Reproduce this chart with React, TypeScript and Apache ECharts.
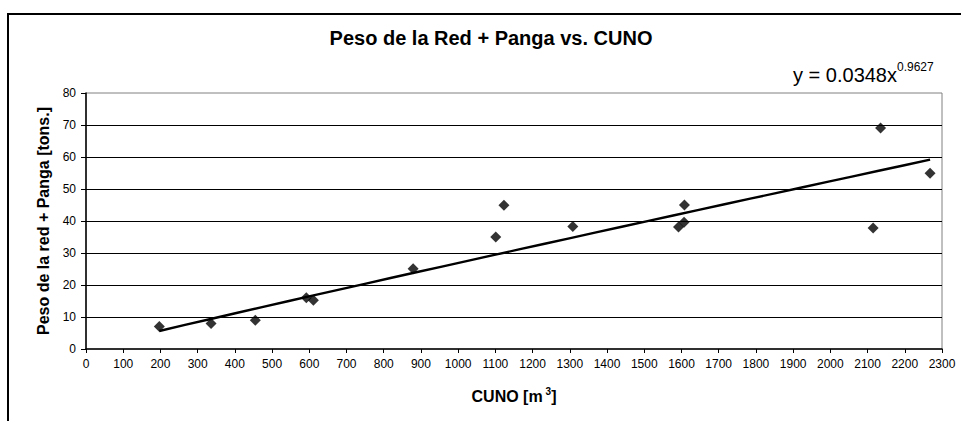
import React, { useEffect, useRef } from "react";
import * as echarts from "echarts";

const TITLE = "Peso de la Red + Panga vs. CUNO";
const X_NAME_MAIN = "CUNO [m";
const X_NAME_SUP = "3";
const Y_NAME = "Peso de la red + Panga [tons.]";
const EQ_MAIN = "y = 0.0348x";
const EQ_SUP = "0.9627";

// CUNO [m3]
const cuno = [197, 336, 455, 592, 611, 879, 1101, 1123, 1308, 1592, 1607, 1608, 2115, 2135, 2268];
// Peso [tons.]
const peso = [7.0, 8.0, 9.0, 16.0, 15.2, 25.1, 35.0, 44.9, 38.3, 38.1, 39.6, 45.0, 37.8, 69.1, 54.9];

// Power trendline coefficients (as displayed: y = a x^b)
const TREND_A = 0.0348;
const TREND_B = 0.9627;
const TREND_STEPS = 30;

const X_MIN = 0, X_MAX = 2300, X_INT = 100;
const Y_MIN = 0, Y_MAX = 80, Y_INT = 10;

const FONT = "'Liberation Sans', Arial, sans-serif";

export default function App() {
  const ref = useRef<HTMLDivElement>(null);
  useEffect(() => {
    if (!ref.current) return;
    const chart = echarts.init(ref.current, undefined, { renderer: "svg" });
    const scatterData = cuno.map((x, i) => [x, peso[i]]);
    const xs = cuno.slice().sort((a, b) => a - b);
    const x0 = xs[0], x1 = xs[xs.length - 1];
    const trend: number[][] = [];
    for (let i = 0; i <= TREND_STEPS; i++) {
      const x = x0 + ((x1 - x0) * i) / TREND_STEPS;
      trend.push([x, TREND_A * Math.pow(x, TREND_B)]);
    }
    chart.setOption({
      animation: false,
      backgroundColor: "#fff",
      textStyle: { fontFamily: FONT, color: "#000" },
      title: {
        text: TITLE,
        left: 491,
        textAlign: "center",
        top: 28,
        padding: 0,
        textStyle: { fontFamily: FONT, fontSize: 20, fontWeight: "bold", color: "#000" },
      },
      grid: {
        left: 86,
        right: 19,
        top: 93,
        bottom: 72,
        show: true,
        borderColor: "#808080",
        borderWidth: 1,
        backgroundColor: "transparent",
      },
      xAxis: {
        type: "value",
        min: X_MIN,
        max: X_MAX,
        interval: X_INT,
        name: `{a|${X_NAME_MAIN}}{b|${X_NAME_SUP}}{a|]}`,
        nameLocation: "middle",
        nameGap: 37,
        nameTextStyle: {
          rich: {
            a: { fontFamily: FONT, fontSize: 16, fontWeight: "bold", color: "#000", lineHeight: 18, verticalAlign: "bottom" },
            b: { fontFamily: FONT, fontSize: 10, fontWeight: "bold", color: "#000", lineHeight: 10, verticalAlign: "top", padding: [0, 0, 0, 3] },
          },
        },
        axisLine: { show: true, lineStyle: { color: "#000", width: 1.5 } },
        axisTick: { show: true, inside: false, length: 4, lineStyle: { color: "#000" } },
        axisLabel: {
          fontFamily: FONT,
          fontSize: 12,
          color: "#000",
          margin: 9,
          formatter: (v: number) => String(v),
        },
        splitLine: { show: false },
      },
      yAxis: {
        type: "value",
        min: Y_MIN,
        max: Y_MAX,
        interval: Y_INT,
        name: Y_NAME,
        nameLocation: "middle",
        nameRotate: 90,
        nameGap: 35,
        nameTextStyle: { fontFamily: FONT, fontSize: 16, fontWeight: "bold", color: "#000" },
        axisLine: { show: true, lineStyle: { color: "#000", width: 1.5 } },
        axisTick: { show: true, inside: false, length: 5, lineStyle: { color: "#000" } },
        axisLabel: { fontFamily: FONT, fontSize: 12, color: "#000", margin: 10 },
        splitLine: { show: true, showMinLine: false, showMaxLine: false, lineStyle: { color: "#000", width: 1.2 } },
      },
      graphic: [
        {
          type: "rect",
          silent: true,
          z: 100,
          shape: { x: 8, y: 14, width: 1000, height: 500 },
          style: { fill: "none", stroke: "#000", lineWidth: 2 },
        },
        {
          type: "text",
          x: 897,
          y: 75,
          style: {
            text: EQ_MAIN,
            fontFamily: FONT,
            fontSize: 20,
            fill: "#000",
            align: "right",
            verticalAlign: "middle",
          },
        },
        {
          type: "text",
          x: 897,
          y: 67,
          style: {
            text: EQ_SUP,
            fontFamily: FONT,
            fontSize: 12,
            fill: "#000",
            align: "left",
            verticalAlign: "middle",
          },
        },
      ],
      series: [
        {
          type: "line",
          data: trend,
          showSymbol: false,
          symbol: "none",
          lineStyle: { color: "#000", width: 2.4 },
          z: 3,
          silent: true,
        },
        {
          type: "scatter",
          data: scatterData,
          symbol: "diamond",
          symbolSize: 11,
          itemStyle: { color: "#000" },
          z: 4,
        },
      ],
    });
    return () => chart.dispose();
  }, []);
  return (
    <div
      ref={ref}
      style={{ position: "absolute", left: 0, top: 0, width: 961, height: 421 }}
    />
  );
}
